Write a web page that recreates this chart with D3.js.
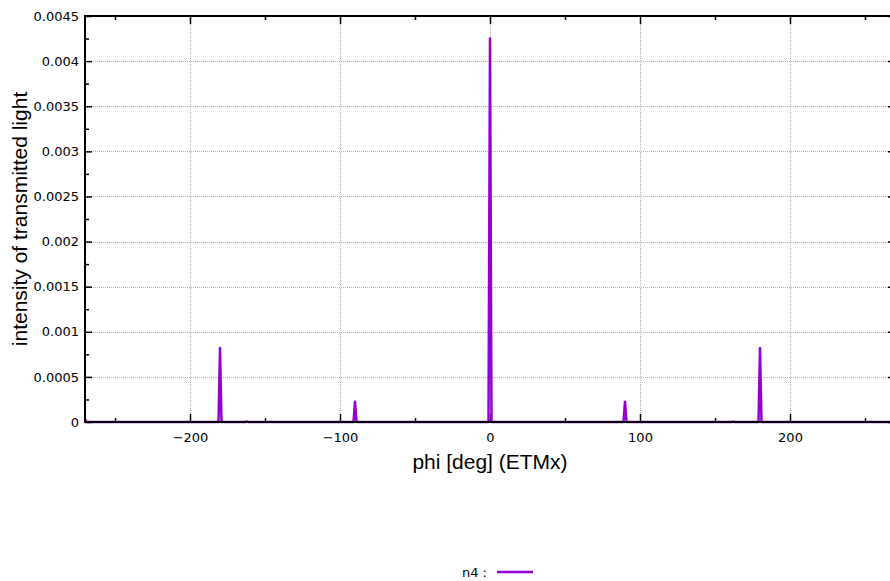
<!DOCTYPE html>
<html>
<head>
<meta charset="utf-8">
<script src="https://cdn.jsdelivr.net/npm/d3@7"></script>
<style>
  html, body { margin: 0; padding: 0; background: #fff; }
  svg { display: block; }
</style>
</head>
<body>
<svg id="chart" width="890" height="581"></svg>
<script>
// Transmitted light intensity vs. rotation angle phi (ETMx), series "n4"
const phiDeg = [-270, -269, -268, -163, -162, -161, -92, -91, -90, -89, -88,
                -182, -181, -180, -179, -178,
                -2, -1, 0, 1, 2,
                88, 89, 90, 91, 92,
                161, 162, 163, 178, 179, 180, 181, 182, 268, 269, 270];
const intensity = [0.00003, 0.000004, 0, 0, 0.000006, 0, 0, 0, 0.000225, 0, 0,
                   0, 0, 0.00082, 0, 0,
                   0, 0, 0.00425, 0, 0,
                   0, 0, 0.000225, 0, 0,
                   0, 0.000006, 0, 0, 0, 0.00082, 0, 0, 0, 0.000004, 0.00003];
const seriesName = "n4";
const xMajorTicks = [-200, -100, 0, 100, 200];
const xMinorTicks = [-250, -150, -50, 50, 150, 250];
const yMajorTicks = [0, 0.0005, 0.001, 0.0015, 0.002, 0.0025, 0.003, 0.0035, 0.004, 0.0045];
const yTickLabels = ["0", "0.0005", "0.001", "0.0015", "0.002", "0.0025", "0.003", "0.0035", "0.004", "0.0045"];
const yMinorTicks = [0.00025, 0.00075, 0.00125, 0.00175, 0.00225, 0.00275, 0.00325, 0.00375, 0.00425];

const points = phiDeg.map((p, i) => ({ p, v: intensity[i] })).sort((a, b) => a.p - b.p);

const svg = d3.select("#chart");
const plotLeft = 85, plotRight = 895, plotTop = 16, plotBottom = 422;
const x = d3.scaleLinear().domain([-270, 270]).range([plotLeft, plotRight]);
const y = d3.scaleLinear().domain([0, 0.0045]).range([plotBottom, plotTop]);

const tickFont = "'DejaVu Sans', 'Noto Sans', sans-serif";
const labelFont = "'Liberation Sans', Arial, sans-serif";

// grid
const grid = svg.append("g").attr("stroke", "#b0b0b0").attr("stroke-width", 1)
  .attr("stroke-dasharray", "1,1").attr("shape-rendering", "crispEdges");
xMajorTicks.forEach(t => grid.append("line")
  .attr("x1", Math.round(x(t)) + 0.5).attr("x2", Math.round(x(t)) + 0.5)
  .attr("y1", plotTop).attr("y2", plotBottom));
yMajorTicks.slice(1, -1).forEach(t => grid.append("line")
  .attr("x1", plotLeft).attr("x2", plotRight)
  .attr("y1", Math.round(y(t)) + 0.5).attr("y2", Math.round(y(t)) + 0.5));

// axes drawn through d3 axis generators with inward ticks
const fmtX = d => d < 0 ? "\u2212" + Math.abs(d) : String(d);
const bottomAxis = svg.append("g").attr("transform", `translate(0,${plotBottom})`)
  .call(d3.axisBottom(x).tickValues(xMajorTicks).tickSizeInner(-8).tickSizeOuter(0).tickPadding(11).tickFormat(fmtX));
const bottomMinor = svg.append("g").attr("transform", `translate(0,${plotBottom})`)
  .call(d3.axisBottom(x).tickValues(xMinorTicks).tickSizeInner(-4).tickSizeOuter(0).tickFormat(""));
const topAxis = svg.append("g").attr("transform", `translate(0,${plotTop})`)
  .call(d3.axisTop(x).tickValues(xMajorTicks).tickSizeInner(-8).tickSizeOuter(0).tickFormat(""));
const topMinor = svg.append("g").attr("transform", `translate(0,${plotTop})`)
  .call(d3.axisTop(x).tickValues(xMinorTicks).tickSizeInner(-4).tickSizeOuter(0).tickFormat(""));
const leftAxis = svg.append("g").attr("transform", `translate(${plotLeft},0)`)
  .call(d3.axisLeft(y).tickValues(yMajorTicks).tickSizeInner(-7).tickSizeOuter(0).tickPadding(6)
    .tickFormat((d, i) => yTickLabels[i]));
const leftMinor = svg.append("g").attr("transform", `translate(${plotLeft},0)`)
  .call(d3.axisLeft(y).tickValues(yMinorTicks).tickSizeInner(-4).tickSizeOuter(0).tickFormat(""));
const rightAxis = svg.append("g").attr("transform", `translate(${plotRight},0)`)
  .call(d3.axisRight(y).tickValues(yMajorTicks).tickSizeInner(-7).tickSizeOuter(0).tickFormat(""));
const rightMinor = svg.append("g").attr("transform", `translate(${plotRight},0)`)
  .call(d3.axisRight(y).tickValues(yMinorTicks).tickSizeInner(-4).tickSizeOuter(0).tickFormat(""));

[bottomAxis, bottomMinor, topAxis, topMinor, leftAxis, leftMinor, rightAxis, rightMinor].forEach(g => {
  g.select(".domain").remove();
  g.selectAll(".tick line").attr("stroke", "#000").attr("stroke-width", 1.5);
  g.selectAll("text").attr("font-family", tickFont).attr("font-size", 13).attr("fill", "#000");
});

// data line
const line = d3.line().x(d => x(d.p)).y(d => y(d.v));
svg.append("path").datum(points)
  .attr("fill", "none").attr("stroke", "#9400d3").attr("stroke-width", 2.5)
  .attr("stroke-linejoin", "round").attr("d", line);

// frame
svg.append("rect").attr("x", plotLeft).attr("y", plotTop)
  .attr("width", plotRight - plotLeft).attr("height", plotBottom - plotTop)
  .attr("fill", "none").attr("stroke", "#000").attr("stroke-width", 2);

// axis titles
svg.append("text").attr("x", x(0)).attr("y", 469).attr("text-anchor", "middle")
  .attr("font-family", labelFont).attr("font-size", 21).text("phi [deg] (ETMx)");
svg.append("text").attr("transform", `translate(27,${(plotTop + plotBottom) / 2}) rotate(-90)`)
  .attr("text-anchor", "middle").attr("font-family", labelFont).attr("font-size", 21)
  .text("intensity of transmitted light");

// legend
svg.append("text").attr("x", 487).attr("y", 576.5).attr("text-anchor", "end")
  .attr("font-family", tickFont).attr("font-size", 13).text(seriesName + " :");
svg.append("line").attr("x1", 497).attr("x2", 533).attr("y1", 572).attr("y2", 572)
  .attr("stroke", "#9400d3").attr("stroke-width", 2.5);
</script>
</body>
</html>
